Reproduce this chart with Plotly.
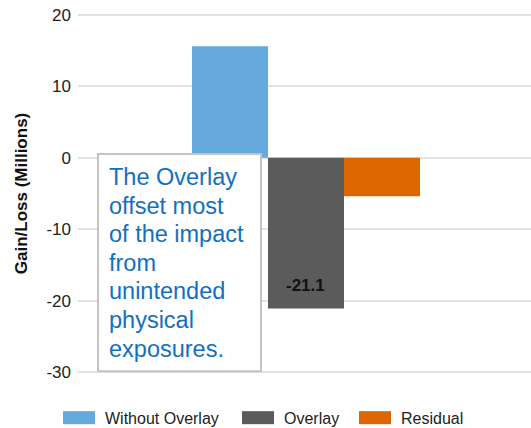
import plotly.graph_objects as go

# ---- data ----
category = ["Impact"]
series_names = ["Without Overlay", "Overlay", "Residual"]
series_values = [15.6, -21.1, -5.4]
series_colors = ["#66a9dc", "#5b5b5b", "#dd6600"]
y_ticks = [-30, -20, -10, 0, 10, 20]
y_tick_labels = ["-30", "-20", "-10", "0", "10", "20"]
note_lines = ["The Overlay", "offset most", "of the impact", "from",
              "unintended", "physical", "exposures."]
labelled_series = "Overlay"

W, H = 531, 428
ML, MR, MT, MB = 78, 0, 12.14, 53.14
PW, PH = W - ML - MR, H - MT - MB
FONT = "Liberation Sans, Arial, sans-serif"


def px(x):
    return (x - ML) / PW


def py(y):
    return (H - MB - y) / PH


fig = go.Figure()
for name, val, col in zip(series_names, series_values, series_colors):
    fig.add_trace(go.Bar(x=category, y=[val], name=name,
                         marker=dict(color=col, line=dict(width=0)),
                         showlegend=False))

fig.update_layout(
    width=W, height=H,
    margin=dict(l=ML, r=MR, t=MT, b=MB, pad=0),
    paper_bgcolor="white", plot_bgcolor="white",
    barmode="group", bargap=0.4967, bargroupgap=0,
    font=dict(family=FONT, color="#222222"),
    xaxis=dict(range=[-0.5033, 0.4967], showticklabels=False, showgrid=False,
               zeroline=False, showline=False, ticks=""),
    yaxis=dict(range=[-30.4, 20.4], tickvals=y_ticks, ticktext=y_tick_labels,
               showgrid=True,
               gridcolor="#e2e2e2", gridwidth=2, zeroline=False,
               showline=False, ticks="", ticklabelstandoff=6,
               tickfont=dict(size=17, color="#222222"),
               title=dict(text="<b>Gain/Loss (Millions)</b>",
                          font=dict(size=17, color="#111111"), standoff=14)),
)

# data label on the Overlay bar
idx = series_names.index(labelled_series)
fig.add_annotation(x=category[0], y=series_values[idx], xref="x", yref="y",
                   text=f"<b>{series_values[idx]:.1f}</b>", showarrow=False,
                   yanchor="middle", yshift=23.5,
                   font=dict(size=17, color="#111111", family=FONT))

# note box
fig.add_shape(type="rect", xref="paper", yref="paper",
              x0=px(98), x1=px(261), y0=py(371), y1=py(154),
              line=dict(color="#c4c4c4", width=2), fillcolor="white",
              layer="above")
for i, line in enumerate(note_lines):
    base = 185 + 28.6 * i
    fig.add_annotation(x=px(107), y=py(base - 8), xref="paper", yref="paper",
                       text=line, showarrow=False, xanchor="left",
                       yanchor="middle", align="left",
                       font=dict(size=23.5, color="#1270be", family=FONT))

# legend (manual)
leg_x = [63, 242, 359]
for name, col, x0 in zip(series_names, series_colors, leg_x):
    fig.add_shape(type="rect", xref="paper", yref="paper",
                  x0=px(x0), x1=px(x0 + 32), y0=py(424), y1=py(411),
                  line=dict(width=0), fillcolor=col, layer="above")
    fig.add_annotation(x=px(x0 + 40), y=py(418), xref="paper", yref="paper",
                       text=name, showarrow=False, xanchor="left",
                       yanchor="middle",
                       font=dict(size=16, color="#222222", family=FONT))

fig.write_html("out.html")
